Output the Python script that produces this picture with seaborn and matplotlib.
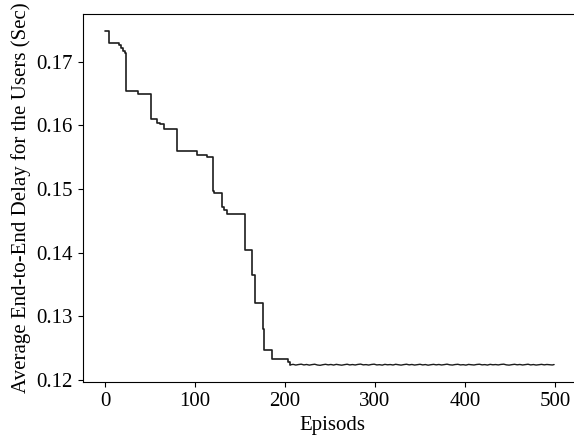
import numpy as np
import pandas as pd
import matplotlib
matplotlib.use("Agg")
import matplotlib.pyplot as plt
import seaborn as sns

# Step (decreasing) part of the curve: episode where each level starts, and its value
step_episodes = [0, 4, 15, 18, 20, 22, 23, 37, 51, 58, 61, 65, 80, 102, 113,
                 120, 121, 130, 132, 135, 156, 163, 167, 175, 177, 186, 203, 206]
step_values = [0.1748, 0.17287, 0.1726, 0.1722, 0.1717, 0.1713, 0.16540, 0.16494,
               0.16102, 0.16035, 0.16015, 0.15945, 0.15589, 0.15527, 0.15500,
               0.14967, 0.14942, 0.14716, 0.14665, 0.14613, 0.14038, 0.13646,
               0.13202, 0.12795, 0.12470, 0.12324, 0.12287, 0.12238]

# Converged (noisy) tail, sampled every 3 episodes from 206 to 497, plus the last episode
tail_episodes = list(range(206, 499, 3)) + [499]
tail_values = [0.12238, 0.12246, 0.12235, 0.12243, 0.12249, 0.12237, 0.12244, 0.12234,
               0.12242, 0.12248, 0.12236, 0.12231, 0.12240, 0.12247, 0.12238, 0.12244,
               0.12235, 0.12246, 0.12239, 0.12233, 0.12241, 0.12248, 0.12237, 0.12243,
               0.12236, 0.12245, 0.12250, 0.12238, 0.12242, 0.12235, 0.12244, 0.12249,
               0.12237, 0.12241, 0.12234, 0.12246, 0.12239, 0.12243, 0.12236, 0.12247,
               0.12240, 0.12234, 0.12242, 0.12248, 0.12238, 0.12244, 0.12235, 0.12241,
               0.12247, 0.12237, 0.12243, 0.12233, 0.12240, 0.12246, 0.12238, 0.12244,
               0.12236, 0.12242, 0.12249, 0.12239, 0.12235, 0.12243, 0.12247, 0.12237,
               0.12241, 0.12234, 0.12245, 0.12240, 0.12236, 0.12244, 0.12248, 0.12238,
               0.12242, 0.12235, 0.12246, 0.12239, 0.12243, 0.12237, 0.12245, 0.12249,
               0.12238, 0.12234, 0.12241, 0.12247, 0.12239, 0.12244, 0.12236, 0.12242,
               0.12248, 0.12237, 0.12243, 0.12235, 0.12240, 0.12246, 0.12238, 0.12244,
               0.12240, 0.12236, 0.12243]

x_ticks = [0, 100, 200, 300, 400, 500]
y_ticks = [0.12, 0.13, 0.14, 0.15, 0.16, 0.17]

sns.set_style("ticks")
plt.rcParams["font.family"] = ["Liberation Serif", "DejaVu Serif"]
plt.rcParams["axes.edgecolor"] = "black"
plt.rcParams["xtick.color"] = "black"
plt.rcParams["ytick.color"] = "black"
plt.rcParams["text.color"] = "black"
plt.rcParams["axes.labelcolor"] = "black"

steps = pd.DataFrame({"Episode": step_episodes, "Delay": step_values})
tail = pd.DataFrame({"Episode": tail_episodes, "Delay": tail_values})

fig = plt.figure(figsize=(5.74, 4.42), dpi=100)
# right edge of the axes lies past the figure edge, as in the reference
ax = fig.add_axes([82.5 / 574, 0.1357, 499.5 / 574, 0.8319])

line_color = "#1c1c1c"
sns.lineplot(data=steps, x="Episode", y="Delay", ax=ax, color=line_color,
             linewidth=1.2, drawstyle="steps-post", estimator=None)
sns.lineplot(data=tail, x="Episode", y="Delay", ax=ax, color=line_color,
             linewidth=1.0, estimator=None)

ax.set_xlim(-25, 530)
ax.set_xticks(x_ticks)
ax.set_yticks(y_ticks)
ax.set_yticklabels([f"{v:.2f}" for v in y_ticks])
ax.tick_params(labelsize=15, direction="out", length=3.5, width=0.8)
ax.set_xlabel("Episods", fontsize=15, labelpad=3.5)
ax.set_ylabel("Average End-to-End Delay for the Users (Sec)", fontsize=15, labelpad=4)
for s in ax.spines.values():
    s.set_linewidth(0.8)
ax.spines["right"].set_visible(False)

fig.savefig("out.png", dpi=100)
